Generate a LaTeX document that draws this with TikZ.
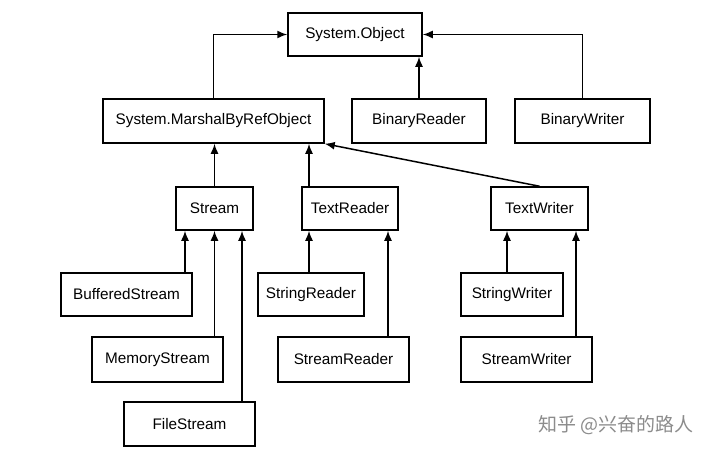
\documentclass[tikz,border=0pt]{standalone}
\usepackage{fontspec}
\setmainfont{Liberation Sans}
\newfontfamily\cjk{Noto Sans CJK SC}
\usetikzlibrary{arrows.meta}
\begin{document}
\begin{tikzpicture}[x=1pt,y=-1pt,
  box/.style={draw,line width=1.5pt,rectangle,inner sep=0pt,minimum height=43pt,font=\fontsize{15.3}{17}\selectfont},
  arr/.style={line width=1.5pt,-{Latex[length=10pt,width=8pt]}}]
\useasboundingbox (0,0) rectangle (715,450);
\fill[white] (0,0) rectangle (715,450);
% nodes
\node[box,minimum width=134pt] (obj) at (355,34.5) {System.Object};
\node[box,minimum width=221pt,minimum height=44pt] (mbr) at (213.5,121) {System.MarshalByRefObject};
\node[box,minimum width=134pt,minimum height=44pt] (br) at (419,121) {BinaryReader};
\node[box,minimum width=135pt,minimum height=44pt] (bw) at (582.5,121) {BinaryWriter};
\node[box,minimum width=77pt] (stream) at (214.5,208.5) {Stream};
\node[box,minimum width=96pt] (tr) at (350,208.5) {TextReader};
\node[box,minimum width=97pt] (tw) at (539.5,208.5) {TextWriter};
\node[box,minimum width=131pt] (bs) at (126.5,294.5) {BufferedStream};
\node[box,minimum width=106pt] (sr) at (311,294.5) {StringReader};
\node[box,minimum width=102pt] (sw) at (512,294.5) {StringWriter};
\node[box,minimum width=131pt,minimum height=45pt] (ms) at (157.5,359.5) {MemoryStream};
\node[box,minimum width=131pt,minimum height=45pt] (str) at (343.5,359.5) {StreamReader};
\node[box,minimum width=131pt,minimum height=45pt] (stw) at (526.5,359.5) {StreamWriter};
\node[box,minimum width=131pt,minimum height=44pt] (fs) at (189.5,424) {FileStream};
\node[text=black!45,font=\cjk\fontsize{19}{21}\selectfont,anchor=center] (wm) at (616,425) {知乎 @兴奋的路人};
% helper coordinates
\coordinate (bsx) at (185,0);
\coordinate (fsx) at (242,0);
\coordinate (trx) at (309,0);
\coordinate (strx) at (388,0);
\coordinate (swx) at (507,0);
\coordinate (stwx) at (576,0);
% connectors
\draw[arr] (mbr.north) |- (obj.west);
\draw[arr] (br.north) -- (br.north |- obj.south);
\draw[arr] (bw.north) |- (obj.east);
\draw[arr] (stream.north) -- (stream.north |- mbr.south);
\draw[arr] (trx |- tr.north) -- (trx |- mbr.south);
\draw[arr] (tw.north) -- (mbr.south east);
\draw[arr] (bsx |- bs.north) -- (bsx |- stream.south);
\draw[arr] (ms.north -| stream.south) -- (stream.south);
\draw[arr] (fsx |- fs.north) -- (fsx |- stream.south);
\draw[arr] (trx |- sr.north) -- (trx |- tr.south);
\draw[arr] (strx |- str.north) -- (strx |- tr.south);
\draw[arr] (swx |- sw.north) -- (swx |- tw.south);
\draw[arr] (stwx |- stw.north) -- (stwx |- tw.south);
\end{tikzpicture}
\end{document}
